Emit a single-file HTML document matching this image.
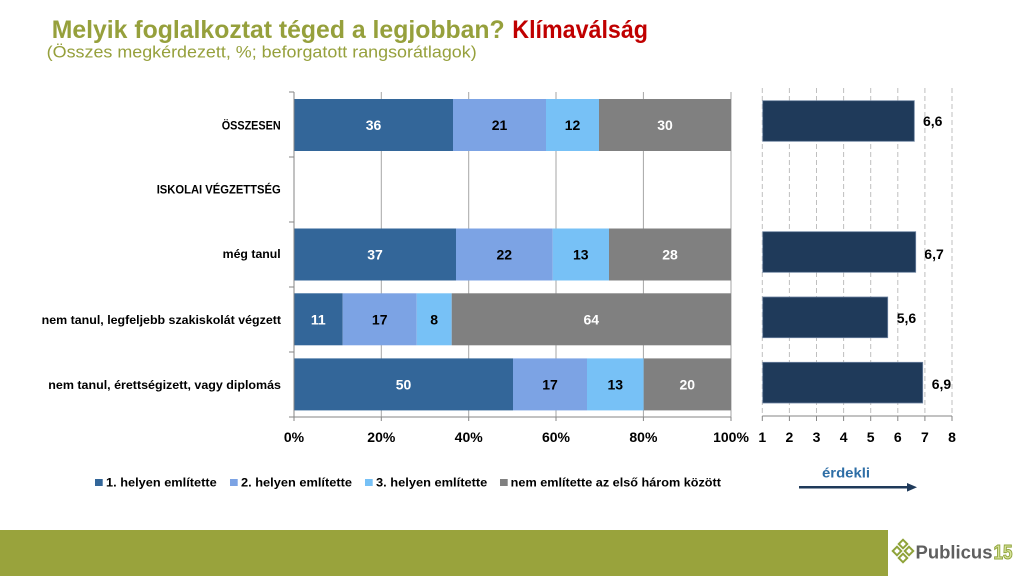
<!DOCTYPE html>
<html>
<head>
<meta charset="utf-8">
<style>
html,body{margin:0;padding:0;background:#fff;}
svg{display:block;}
text{font-family:"Liberation Sans",Arial,sans-serif;}
</style>
</head>
<body>
<svg width="1024" height="576" viewBox="0 0 1024 576" xmlns="http://www.w3.org/2000/svg">
<rect width="1024" height="576" fill="#fff"/>

<!-- Title -->
<text x="51.7" y="38" font-size="25" font-weight="bold" fill="#96a03c" textLength="453" lengthAdjust="spacingAndGlyphs">Melyik foglalkoztat téged a legjobban?</text>
<text x="512.3" y="38" font-size="25" font-weight="bold" fill="#c00000" textLength="135.7" lengthAdjust="spacingAndGlyphs">Klímaválság</text>
<text x="46.7" y="57.5" font-size="16.5" fill="#96a03c" textLength="430" lengthAdjust="spacingAndGlyphs">(Összes megkérdezett, %; beforgatott rangsorátlagok)</text>

<!-- Left chart gridlines -->
<g stroke="#a6a6a6" stroke-width="1">
<line x1="381.3" y1="92" x2="381.3" y2="417"/>
<line x1="468.7" y1="92" x2="468.7" y2="417"/>
<line x1="556" y1="92" x2="556" y2="417"/>
<line x1="643.4" y1="92" x2="643.4" y2="417"/>
<line x1="731" y1="92" x2="731" y2="417"/>
</g>

<!-- Left chart bars -->
<!-- Row 1 -->
<rect x="294" y="99" width="159" height="52" fill="#336699"/>
<rect x="453" y="99" width="93" height="52" fill="#7ca3e4"/>
<rect x="546" y="99" width="53" height="52" fill="#77c1f6"/>
<rect x="599" y="99" width="132" height="52" fill="#808080"/>
<!-- Row 3 -->
<rect x="294" y="228.5" width="162" height="52" fill="#336699"/>
<rect x="456" y="228.5" width="96.7" height="52" fill="#7ca3e4"/>
<rect x="552.7" y="228.5" width="56.3" height="52" fill="#77c1f6"/>
<rect x="609" y="228.5" width="122" height="52" fill="#808080"/>
<!-- Row 4 -->
<rect x="294" y="293.3" width="48.7" height="52" fill="#336699"/>
<rect x="342.7" y="293.3" width="74" height="52" fill="#7ca3e4"/>
<rect x="416.7" y="293.3" width="35" height="52" fill="#77c1f6"/>
<rect x="451.7" y="293.3" width="279.3" height="52" fill="#808080"/>
<!-- Row 5 -->
<rect x="294" y="358.4" width="219" height="52" fill="#336699"/>
<rect x="513" y="358.4" width="74" height="52" fill="#7ca3e4"/>
<rect x="587" y="358.4" width="56.7" height="52" fill="#77c1f6"/>
<rect x="643.7" y="358.4" width="87.3" height="52" fill="#808080"/>

<!-- Bar labels -->
<g font-size="14" font-weight="bold" text-anchor="middle">
<text x="373.5" y="130" fill="#fff">36</text>
<text x="499.5" y="130" fill="#000">21</text>
<text x="572.5" y="130" fill="#000">12</text>
<text x="665" y="130" fill="#fff">30</text>

<text x="375" y="259.5" fill="#fff">37</text>
<text x="504.3" y="259.5" fill="#000">22</text>
<text x="580.8" y="259.5" fill="#000">13</text>
<text x="670" y="259.5" fill="#fff">28</text>

<text x="318.3" y="324.3" fill="#fff">11</text>
<text x="379.7" y="324.3" fill="#000">17</text>
<text x="434.2" y="324.3" fill="#000">8</text>
<text x="591.3" y="324.3" fill="#fff">64</text>

<text x="403.5" y="389.4" fill="#fff">50</text>
<text x="550" y="389.4" fill="#000">17</text>
<text x="615.3" y="389.4" fill="#000">13</text>
<text x="687.3" y="389.4" fill="#fff">20</text>
</g>

<!-- Left axes -->
<g stroke="#868686" stroke-width="1">
<line x1="294" y1="92" x2="294" y2="417"/>
<line x1="289" y1="92" x2="294" y2="92"/>
<line x1="289" y1="157" x2="294" y2="157"/>
<line x1="289" y1="222" x2="294" y2="222"/>
<line x1="289" y1="287" x2="294" y2="287"/>
<line x1="289" y1="352" x2="294" y2="352"/>
<line x1="289" y1="417" x2="294" y2="417"/>
<line x1="294" y1="417" x2="731" y2="417"/>
<line x1="294" y1="417" x2="294" y2="421"/>
<line x1="381.3" y1="417" x2="381.3" y2="421"/>
<line x1="468.7" y1="417" x2="468.7" y2="421"/>
<line x1="556" y1="417" x2="556" y2="421"/>
<line x1="643.4" y1="417" x2="643.4" y2="421"/>
<line x1="731" y1="417" x2="731" y2="421"/>
</g>

<!-- Left tick labels -->
<g font-size="14" font-weight="bold" text-anchor="middle" fill="#000">
<text x="294" y="442">0%</text>
<text x="381.3" y="442">20%</text>
<text x="468.7" y="442">40%</text>
<text x="556" y="442">60%</text>
<text x="643.4" y="442">80%</text>
<text x="731" y="442">100%</text>
</g>

<!-- Category labels -->
<g font-size="12" font-weight="bold" fill="#000">
<text x="221.7" y="129.3" textLength="59" lengthAdjust="spacingAndGlyphs">ÖSSZESEN</text>
<text x="156.7" y="193.6" textLength="124" lengthAdjust="spacingAndGlyphs">ISKOLAI VÉGZETTSÉG</text>
<text x="222.7" y="258" textLength="58" lengthAdjust="spacingAndGlyphs">még tanul</text>
<text x="41.7" y="324" textLength="239.3" lengthAdjust="spacingAndGlyphs">nem tanul, legfeljebb szakiskolát végzett</text>
<text x="48.3" y="389" textLength="232.7" lengthAdjust="spacingAndGlyphs">nem tanul, érettségizett, vagy diplomás</text>
</g>

<!-- Right chart gridlines -->
<g stroke="#bfbfbf" stroke-width="1" stroke-dasharray="5,3">
<line x1="762.3" y1="88" x2="762.3" y2="416"/>
<line x1="789.4" y1="88" x2="789.4" y2="416"/>
<line x1="816.5" y1="88" x2="816.5" y2="416"/>
<line x1="843.6" y1="88" x2="843.6" y2="416"/>
<line x1="870.7" y1="88" x2="870.7" y2="416"/>
<line x1="897.8" y1="88" x2="897.8" y2="416"/>
<line x1="924.9" y1="88" x2="924.9" y2="416"/>
<line x1="952" y1="88" x2="952" y2="416"/>
</g>
<g stroke="#868686" stroke-width="1">
<line x1="762.3" y1="416" x2="952" y2="416"/>
<line x1="762.3" y1="416" x2="762.3" y2="421"/>
<line x1="789.4" y1="416" x2="789.4" y2="421"/>
<line x1="816.5" y1="416" x2="816.5" y2="421"/>
<line x1="843.6" y1="416" x2="843.6" y2="421"/>
<line x1="870.7" y1="416" x2="870.7" y2="421"/>
<line x1="897.8" y1="416" x2="897.8" y2="421"/>
<line x1="924.9" y1="416" x2="924.9" y2="421"/>
<line x1="952" y1="416" x2="952" y2="421"/>
</g>

<!-- Right bars -->
<g fill="#1f3a5a" stroke="#6d83a0" stroke-width="0.8">
<rect x="762.7" y="100.7" width="151.6" height="40.6"/>
<rect x="762.7" y="231.7" width="153" height="40.6"/>
<rect x="762.7" y="297" width="125" height="40.7"/>
<rect x="762.7" y="362.3" width="160" height="40.7"/>
</g>

<g font-size="14" font-weight="bold" fill="#000">
<text x="923" y="126">6,6</text>
<text x="924.3" y="259">6,7</text>
<text x="896.7" y="323">5,6</text>
<text x="931.7" y="389">6,9</text>
</g>

<g font-size="14" font-weight="bold" text-anchor="middle" fill="#000">
<text x="762.3" y="442">1</text>
<text x="789.4" y="442">2</text>
<text x="816.5" y="442">3</text>
<text x="843.6" y="442">4</text>
<text x="870.7" y="442">5</text>
<text x="897.8" y="442">6</text>
<text x="924.9" y="442">7</text>
<text x="952" y="442">8</text>
</g>

<!-- érdekli arrow -->
<text x="846" y="477.5" font-size="14" font-weight="bold" fill="#2e6ea6" text-anchor="middle" textLength="48" lengthAdjust="spacingAndGlyphs">érdekli</text>
<line x1="799" y1="487.3" x2="909" y2="487.3" stroke="#1f3a5a" stroke-width="2.5"/>
<polygon points="907,483 917,487.3 907,491.6" fill="#1f3a5a"/>

<!-- Legend -->
<rect x="95" y="479" width="7.7" height="7" fill="#336699"/>
<rect x="230" y="479" width="7.7" height="7" fill="#7ca3e4"/>
<rect x="365" y="479" width="7.7" height="7" fill="#77c1f6"/>
<rect x="500" y="479" width="7.7" height="7" fill="#808080"/>
<g font-size="12" font-weight="bold" fill="#000">
<text x="106" y="486.5" textLength="110.7" lengthAdjust="spacingAndGlyphs">1. helyen említette</text>
<text x="241" y="486.5" textLength="111" lengthAdjust="spacingAndGlyphs">2. helyen említette</text>
<text x="376" y="486.5" textLength="111.3" lengthAdjust="spacingAndGlyphs">3. helyen említette</text>
<text x="510.7" y="486.5" textLength="210.3" lengthAdjust="spacingAndGlyphs">nem említette az első három között</text>
</g>

<!-- Bottom band -->
<rect x="0" y="530" width="888" height="46" fill="#99a33c"/>

<!-- Logo -->
<g fill="none" stroke="#8fa33a" stroke-width="2">
<rect x="900" y="541" width="6" height="6" transform="rotate(45 903 544)"/>
<rect x="894" y="548" width="6" height="6" transform="rotate(45 897 551)"/>
<rect x="906" y="548" width="6" height="6" transform="rotate(45 909 551)"/>
<rect x="900" y="555" width="6" height="6" transform="rotate(45 903 558)"/>
</g>
<text x="915.5" y="558.5" font-size="18" font-weight="bold" fill="#5f5f5f" textLength="77" lengthAdjust="spacingAndGlyphs">Publicus</text>
<text x="993.5" y="559" font-size="20" font-weight="bold" fill="#d6e39a" stroke="#8fa33a" stroke-width="1" textLength="19" lengthAdjust="spacingAndGlyphs">15</text>
</svg>
</body>
</html>
